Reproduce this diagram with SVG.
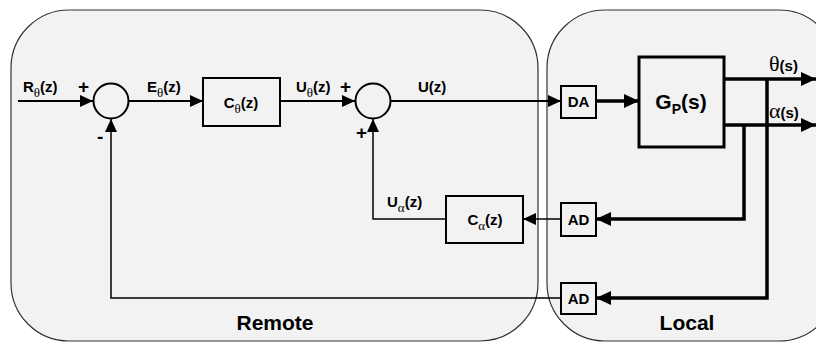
<svg xmlns="http://www.w3.org/2000/svg" width="816" height="343" viewBox="0 0 816 343">
<style>
.panel{fill:#f2f2f2;stroke:#333;stroke-width:1.2}
.blk{fill:none;stroke:#000;stroke-width:2}
.thk{fill:none;stroke:#000;stroke-width:3.5}
.ln{fill:none;stroke:#000;stroke-width:2}
.lt{fill:none;stroke:#000;stroke-width:1.5}
.lb{font-family:"Liberation Sans",Arial,sans-serif;font-weight:bold;font-size:15px;fill:#000}
.pm{font-family:"Liberation Sans",Arial,sans-serif;font-weight:bold;font-size:19px;fill:#000}
.sub{font-family:"Liberation Serif","DejaVu Serif",serif;font-weight:normal;font-size:13px}
.sg{font-family:"Liberation Sans",Arial,sans-serif;font-weight:bold;font-size:21px;fill:#000}
.sp{font-size:14px}
.ttl{font-family:"Liberation Sans",Arial,sans-serif;font-weight:bold;font-size:21px;fill:#000}
.gk{font-family:"Liberation Serif","DejaVu Serif",serif;font-weight:normal;font-size:22px}
</style>
<defs>
<marker id="a" markerUnits="userSpaceOnUse" markerWidth="14" markerHeight="12" refX="13" refY="6" orient="auto"><path d="M0,0 L13,6 L0,12 Z" fill="#000"/></marker>
<marker id="ab" markerUnits="userSpaceOnUse" markerWidth="16" markerHeight="14" refX="15" refY="7" orient="auto"><path d="M0,0 L15,7 L0,14 Z" fill="#000"/></marker>
</defs>
<g id="remote"><rect class="panel" x="11" y="10" width="527" height="331" rx="58" ry="58"/><text class="ttl" x="275" y="330" text-anchor="middle">Remote</text></g>
<g id="local"><rect class="panel" x="547" y="10" width="290" height="331" rx="58" ry="58"/><text class="ttl" x="687" y="330" text-anchor="middle">Local</text></g>
<g id="connectors">
<line class="ln" x1="18" y1="101" x2="93" y2="101" marker-end="url(#a)"/>
<line class="ln" x1="129" y1="101" x2="203" y2="101" marker-end="url(#a)"/>
<line class="ln" x1="280" y1="101" x2="355" y2="101" marker-end="url(#a)"/>
<line class="ln" x1="391" y1="101" x2="561" y2="101" marker-end="url(#a)"/>
<line class="thk" x1="596" y1="101" x2="639" y2="101" marker-end="url(#ab)"/>
<line class="thk" x1="724" y1="79" x2="816" y2="79" marker-end="url(#ab)"/>
<line class="thk" x1="724" y1="125" x2="816" y2="125" marker-end="url(#ab)"/>
<polyline class="thk" points="767,79 767,298 596,298" marker-end="url(#ab)"/>
<polyline class="thk" points="744,125 744,219 596,219" marker-end="url(#ab)"/>
<line class="lt" x1="561" y1="219" x2="523" y2="219" marker-end="url(#a)"/>
<polyline class="lt" points="446,219 373,219 373,119" marker-end="url(#a)"/>
<polyline class="lt" points="561,298 111,298 111,119" marker-end="url(#a)"/>
</g>
<g id="sum1"><circle class="blk" cx="111" cy="101" r="17.5"/><text class="pm" x="78" y="93">+</text><text class="pm" x="97" y="143">-</text></g>
<g id="sum2"><circle class="blk" cx="373" cy="101" r="17.5"/><text class="pm" x="340" y="93">+</text><text class="pm" x="356" y="139">+</text></g>
<g id="c0"><rect class="blk" x="203" y="78" width="77" height="48"/><text class="lb" x="241" y="108" text-anchor="middle">C<tspan class="sub" dy="5">θ</tspan><tspan dy="-5">(z)</tspan></text></g>
<g id="calpha"><rect class="blk" x="446" y="196" width="77" height="47"/><text class="lb" x="485" y="225" text-anchor="middle">C<tspan class="sub" dy="5">α</tspan><tspan dy="-5">(z)</tspan></text></g>
<g id="da"><rect class="blk" x="561" y="86" width="35" height="32"/><text class="lb" x="578.5" y="107" text-anchor="middle">DA</text></g>
<g id="ad1"><rect class="blk" x="561" y="203" width="35" height="33"/><text class="lb" x="578.5" y="225" text-anchor="middle">AD</text></g>
<g id="ad2"><rect class="blk" x="561" y="283" width="35" height="31"/><text class="lb" x="578.5" y="304" text-anchor="middle">AD</text></g>
<g id="gp"><rect class="thk" x="639" y="57" width="85" height="90" style="stroke-width:3"/><text class="sg" x="681" y="109" text-anchor="middle">G<tspan class="sp" dy="5">P</tspan><tspan dy="-5">(s)</tspan></text></g>
<g id="labels">
<text class="lb" x="23" y="92">R<tspan class="sub" dy="5">θ</tspan><tspan dy="-5">(z)</tspan></text>
<text class="lb" x="147" y="92">E<tspan class="sub" dy="5">θ</tspan><tspan dy="-5">(z)</tspan></text>
<text class="lb" x="296" y="92">U<tspan class="sub" dy="5">θ</tspan><tspan dy="-5">(z)</tspan></text>
<text class="lb" x="418" y="92">U(z)</text>
<text class="lb" x="387" y="207">U<tspan class="sub" dy="5">α</tspan><tspan dy="-5">(z)</tspan></text>
<text class="lb" x="769" y="71"><tspan class="gk">θ</tspan>(s)</text>
<text class="lb" x="769" y="118"><tspan class="gk">α</tspan>(s)</text>
</g>
</svg>
